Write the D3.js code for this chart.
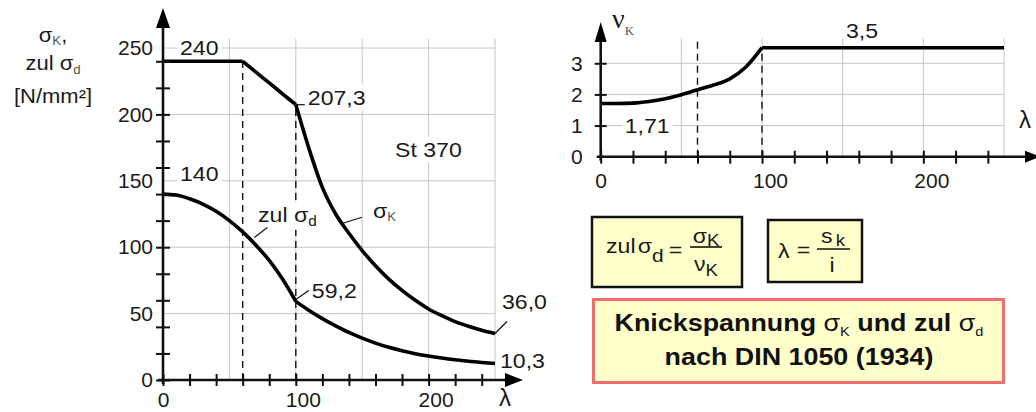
<!DOCTYPE html>
<html><head><meta charset="utf-8">
<script src="https://cdn.jsdelivr.net/npm/d3@7"></script>
<style>
html,body{margin:0;padding:0;background:#fff;}
svg{display:block;font-family:"Liberation Sans",Arial,sans-serif;}
</style>
</head><body>
<svg id="c" width="1036" height="412"></svg>
<script>
// ---------- data ----------
const lambda    = [0,10,20,30,40,50,60,70,80,90,100,110,120,130,140,150,160,170,180,190,200,210,220,230,240,250];
const sigmaK    = [240,240,240,240,240,240,240,231.8,223.7,215.5,207.3,174,145,125,110.5,97.5,86,76,67.5,60,53.5,48.5,44,40.5,37.5,35];
const zulSigmaD = [140,139.3,136.5,132.5,127,120,111.5,101.5,90,76,59.2,52.3,46.2,40.8,35.8,31.5,27.8,24.6,22,19.8,18,16.5,15.2,14.1,13.2,12.4];
const nuK       = [1.71,1.71,1.72,1.77,1.86,1.99,2.15,2.30,2.50,2.88,3.5,3.5,3.5,3.5,3.5,3.5,3.5,3.5,3.5,3.5,3.5,3.5,3.5,3.5,3.5,3.5];
const breaks    = [60,100];

const leftYLabels  = [0,50,100,150,200,250];
const leftXLabels  = [0,100,200];
const leftGrid     = [50,100,150,200,250];
const rightYLabels = [0,1,2,3];
const rightXLabels = [0,100,200];
const rightXGrid   = [50,100,150,200,250];
const rightYGrid   = [1,2,3];
const minorStep    = 20;

// ---------- setup ----------
const svg = d3.select('#c');
const INK = '#1a1a1a';
const GRID = '#c6c6c6';
const SX = 1.1;
const FONT = '"Liberation Sans",Arial,sans-serif';

const xL = d3.scaleLinear().domain([0,250]).range([163,495]);
const yL = d3.scaleLinear().domain([0,250]).range([380,48]);
const xR = d3.scaleLinear().domain([0,250]).range([600.7,1004]);
const yR = d3.scaleLinear().domain([0,3.5]).range([156.7,47.7]);

function label(parent, x, y, parts, o = {}) {
  const g = parent.append('g');
  const t = g.append('text')
    .attr('transform', `translate(${x},${y}) scale(${o.sx || SX},1)`)
    .attr('text-anchor', o.anchor || 'start')
    .attr('font-size', o.size || 21)
    .attr('font-weight', o.weight || 'normal')
    .attr('fill', o.fill || INK);
  if (o.family) t.attr('font-family', o.family);
  let cur = 0;
  parts.forEach(p => {
    if (typeof p === 'string') p = { t: p };
    const off = p.off || 0;
    const ts = t.append('tspan').text(p.t);
    if (off !== cur) ts.attr('dy', off - cur);
    cur = off;
    if (p.size) ts.attr('font-size', p.size);
    if (p.weight) ts.attr('font-weight', p.weight);
    if (p.fill) ts.attr('fill', p.fill);
    if (p.dx) ts.attr('dx', p.dx);
    if (p.family) ts.attr('font-family', p.family);
  });
  if (o.bg) {
    const b = g.node().getBBox();
    g.insert('rect', 'text').attr('x', b.x - 3).attr('y', b.y - 1)
      .attr('width', b.width + 6).attr('height', b.height + 2).attr('fill', '#fff');
  }
  return g;
}

function segments(xs, ys, cuts) {
  const edges = [xs[0], ...cuts, xs[xs.length - 1]];
  const out = [];
  for (let i = 0; i < edges.length - 1; i++) {
    const seg = [];
    xs.forEach((x, j) => { if (x >= edges[i] && x <= edges[i + 1]) seg.push([x, ys[j]]); });
    if (seg.length > 1) out.push(seg);
  }
  return out;
}
const valAt = (arr, l) => arr[lambda.indexOf(l)];

// ================= LEFT CHART =================
const L = svg.append('g');

L.append('g').selectAll('line').data(leftGrid).join('line')
  .attr('x1', d => xL(d)).attr('x2', d => xL(d))
  .attr('y1', yL(0)).attr('y2', yL(257))
  .attr('stroke', GRID).attr('stroke-width', 1);
L.append('g').selectAll('line').data(leftGrid).join('line')
  .attr('x1', xL(0)).attr('x2', xL(250))
  .attr('y1', d => yL(d)).attr('y2', d => yL(d))
  .attr('stroke', GRID).attr('stroke-width', 1);

L.append('g').selectAll('line').data(breaks).join('line')
  .attr('x1', d => xL(d)).attr('x2', d => xL(d))
  .attr('y1', yL(0)).attr('y2', d => yL(valAt(sigmaK, d)))
  .attr('stroke', '#111').attr('stroke-width', 1.4).attr('stroke-dasharray', '7,5');

label(L, xL(0) + 17, yL(240) - 6, ['240'], { bg: true });
label(L, xL(0) + 17, yL(140) - 13, ['140'], { bg: true });
label(L, xL(100) + 12, yL(207.3), ['207,3'], { bg: true });
label(L, 395, 157, ['St 370'], { bg: true });
label(L, xL(100) + 16, yL(59.2) - 3, ['59,2']);
label(L, xL(250) + 7, yL(37.5) - 21, ['36,0']);
label(L, xL(250) + 5, yL(12.4) + 4, ['10,3']);
label(L, 258, 222, ['zul σ', { t: 'd', off: 4, size: 14 }], { bg: true });
label(L, 373, 218, ['σ', { t: 'K', off: 3, size: 12, fill: '#555' }], { bg: true });

const leaders = [
  [xL(100), yL(207.3), xL(100) + 9, yL(207.3)],
  [xL(100), yL(59.2) - 2, xL(100) + 13, yL(59.2) - 11],
  [xL(250), yL(35), xL(250) + 12, yL(35) - 12],
  [xL(68) + 1, yL(103.5) - 5, xL(68) + 14, yL(103.5) - 15],
  [xL(135.5), yL(118), xL(135.5) + 19, yL(118) - 6]
];
L.append('g').selectAll('line').data(leaders).join('line')
  .attr('x1', d => d[0]).attr('y1', d => d[1]).attr('x2', d => d[2]).attr('y2', d => d[3])
  .attr('stroke', '#111').attr('stroke-width', 1.2);

const lineL = d3.line().x(d => xL(d[0])).y(d => yL(d[1])).curve(d3.curveMonotoneX);
segments(lambda, sigmaK, breaks).forEach(s =>
  L.append('path').attr('d', lineL(s)).attr('fill', 'none').attr('stroke', '#000').attr('stroke-width', 3.6));
segments(lambda, zulSigmaD, [100]).forEach(s =>
  L.append('path').attr('d', lineL(s)).attr('fill', 'none').attr('stroke', '#000').attr('stroke-width', 3.6));

const lxt = L.append('g').attr('transform', `translate(0,${yL(0)})`)
  .call(d3.axisBottom(xL).tickValues(d3.range(0, 241, minorStep)).tickSize(6).tickFormat(''));
lxt.select('.domain').remove();
lxt.selectAll('line').attr('y1', -6).attr('y2', 6).attr('stroke', '#111').attr('stroke-width', 2);
const lyt = L.append('g').attr('transform', `translate(${xL(0)},0)`)
  .call(d3.axisLeft(yL).tickValues(d3.range(0, 241, minorStep)).tickSize(7).tickFormat(''));
lyt.select('.domain').remove();
lyt.selectAll('line').attr('x1', 7).attr('x2', -7).attr('stroke', '#111').attr('stroke-width', 2);

const lyl = L.append('g').attr('transform', `translate(${xL(0)},0)`)
  .call(d3.axisLeft(yL).tickValues(leftYLabels).tickFormat(d3.format('d')).tickSize(0).tickPadding(10));
lyl.select('.domain').remove();
lyl.selectAll('text').attr('font-size', 21).attr('fill', INK).attr('font-family', FONT);
const lxl = L.append('g').attr('transform', `translate(0,${yL(0)})`)
  .call(d3.axisBottom(xL).tickValues(leftXLabels).tickFormat(d3.format('d')).tickSize(0).tickPadding(12));
lxl.select('.domain').remove();
lxl.selectAll('text').attr('font-size', 21).attr('fill', INK).attr('dx', d => d ? 7 : 0).attr('font-family', FONT);

L.append('line').attr('x1', xL(0)).attr('x2', xL(0)).attr('y1', yL(0) + 4).attr('y2', 24)
  .attr('stroke', '#111').attr('stroke-width', 2.6);
L.append('path').attr('d', `M${xL(0)},8 L${xL(0) - 7},28 L${xL(0) + 7},28 Z`).attr('fill', '#000');
L.append('line').attr('x1', xL(0) - 5).attr('x2', 508).attr('y1', yL(0)).attr('y2', yL(0))
  .attr('stroke', '#111').attr('stroke-width', 2.6);
L.append('path').attr('d', `M523,${yL(0)} L505,${yL(0) - 7} L505,${yL(0) + 7} Z`).attr('fill', '#000');

label(L, 53, 42, ['σ', { t: 'K', off: 3, size: 12, fill: '#555' }, { t: ',', off: 0 }], { anchor: 'middle', size: 20 });
label(L, 53, 70, ['zul σ', { t: 'd', off: 4, size: 12, fill: '#555' }], { anchor: 'middle', size: 20 });
label(L, 53, 103, ['[N/mm²]'], { anchor: 'middle', size: 20 });
label(L, 499, 406, ['λ'], { size: 24, sx: 1 });

// ================= RIGHT CHART =================
const R = svg.append('g');

R.append('g').selectAll('line').data(rightXGrid).join('line')
  .attr('x1', d => xR(d)).attr('x2', d => xR(d))
  .attr('y1', yR(0)).attr('y2', yR(3.8))
  .attr('stroke', GRID).attr('stroke-width', 1);
R.append('g').selectAll('line').data(rightYGrid).join('line')
  .attr('x1', xR(0)).attr('x2', xR(250))
  .attr('y1', d => yR(d)).attr('y2', d => yR(d))
  .attr('stroke', GRID).attr('stroke-width', 1);

R.append('g').selectAll('line').data(breaks).join('line')
  .attr('x1', d => xR(d)).attr('x2', d => xR(d))
  .attr('y1', yR(0)).attr('y2', d => d === 60 ? yR(3.8) : yR(valAt(nuK, d)))
  .attr('stroke', '#111').attr('stroke-width', 1.4).attr('stroke-dasharray', '7,5');

label(R, xR(0) + 24, yR(1) + 7, ['1,71'], { bg: true });
label(R, xR(162), yR(3.5) - 10, ['3,5'], { anchor: 'middle' });

const lineR = d3.line().x(d => xR(d[0])).y(d => yR(d[1])).curve(d3.curveMonotoneX);
segments(lambda, nuK, breaks).forEach(s =>
  R.append('path').attr('d', lineR(s)).attr('fill', 'none').attr('stroke', '#000').attr('stroke-width', 3.6));

const rxt = R.append('g').attr('transform', `translate(0,${yR(0)})`)
  .call(d3.axisBottom(xR).tickValues(d3.range(0, 241, minorStep)).tickSize(6).tickFormat(''));
rxt.select('.domain').remove();
rxt.selectAll('line').attr('y1', -6).attr('y2', 7).attr('stroke', '#111').attr('stroke-width', 2);
const ryt = R.append('g').attr('transform', `translate(${xR(0)},0)`)
  .call(d3.axisLeft(yR).tickValues(rightYGrid).tickSize(6).tickFormat(''));
ryt.select('.domain').remove();
ryt.selectAll('line').attr('x1', 6).attr('x2', -6).attr('stroke', '#111').attr('stroke-width', 2);

const ryl = R.append('g').attr('transform', `translate(${xR(0)},0)`)
  .call(d3.axisLeft(yR).tickValues(rightYLabels).tickFormat(d3.format('d')).tickSize(0).tickPadding(18));
ryl.select('.domain').remove();
ryl.selectAll('text').attr('font-size', 21).attr('fill', INK).attr('font-family', FONT);
const rxl = R.append('g').attr('transform', `translate(0,${yR(0)})`)
  .call(d3.axisBottom(xR).tickValues(rightXLabels).tickFormat(d3.format('d')).tickSize(0).tickPadding(16));
rxl.select('.domain').remove();
rxl.selectAll('text').attr('font-size', 21).attr('fill', INK).attr('dx', d => d ? 8 : 0).attr('font-family', FONT);

R.append('line').attr('x1', xR(0)).attr('x2', xR(0)).attr('y1', yR(0) + 4).attr('y2', 36)
  .attr('stroke', '#111').attr('stroke-width', 2.6);
R.append('path').attr('d', `M${xR(0)},22 L${xR(0) - 6},42 L${xR(0) + 6},42 Z`).attr('fill', '#000');
R.append('line').attr('x1', xR(0) - 4).attr('x2', 1030).attr('y1', yR(0)).attr('y2', yR(0))
  .attr('stroke', '#111').attr('stroke-width', 2.6);
R.append('path').attr('d', `M1040,${yR(0)} L1025,${yR(0) - 6} L1025,${yR(0) + 6} Z`).attr('fill', '#000');

label(R, 612, 28, ['ν', { t: 'K', off: 7, size: 13, fill: '#555' }], { size: 28, sx: 1, family: '"Liberation Serif",serif' });
label(R, 1019, 128, ['λ'], { size: 24, sx: 1 });

// ================= FORMULA BOXES =================
const F = svg.append('g');
F.append('rect').attr('x', 592).attr('y', 217).attr('width', 150).attr('height', 70)
  .attr('fill', '#ffffcc').attr('stroke', '#111').attr('stroke-width', 2.5);
label(F, 606, 253, ['zul', { t: 'σ', dx: 2 }, { t: 'd', off: 9, size: 19 }], { size: 21 });
label(F, 675.5, 257, ['='], { anchor: 'middle', size: 21 });
F.append('line').attr('x1', 690).attr('x2', 722).attr('y1', 247).attr('y2', 247).attr('stroke', '#111').attr('stroke-width', 1.6);
label(F, 706, 243, ['σ', { t: 'K', off: 3, size: 17 }], { anchor: 'middle', size: 21 });
label(F, 706, 271, ['ν', { t: 'K', off: 5, size: 17 }], { anchor: 'middle', size: 21 });

F.append('rect').attr('x', 768).attr('y', 220).attr('width', 94).attr('height', 62)
  .attr('fill', '#ffffcc').attr('stroke', '#111').attr('stroke-width', 2.5);
label(F, 778, 258, ['λ'], { size: 21 });
label(F, 803.5, 257, ['='], { anchor: 'middle', size: 21 });
F.append('line').attr('x1', 817).attr('x2', 850).attr('y1', 249).attr('y2', 249).attr('stroke', '#111').attr('stroke-width', 1.6);
label(F, 833, 243, ['s', { t: 'k', off: 3, size: 17, dx: 3 }], { anchor: 'middle', size: 21 });
label(F, 832, 272, ['i'], { anchor: 'middle', size: 21 });

// ================= TITLE BOX =================
F.append('rect').attr('x', 593.5).attr('y', 299.5).attr('width', 410).attr('height', 83)
  .attr('fill', '#ffffcc').attr('stroke', '#f26d6d').attr('stroke-width', 3);
label(F, 799, 331, ['Knickspannung ', { t: 'σ', weight: 'normal' }, { t: 'K', off: 5, size: 13, weight: 'normal' },
  { t: ' und zul ', off: 0 }, { t: 'σ', weight: 'normal' }, { t: 'd', off: 5, size: 13, weight: 'normal' }],
  { anchor: 'middle', size: 24, weight: 'bold', sx: 1.12, fill: '#111' });
label(F, 799, 365, ['nach DIN 1050 (1934)'], { anchor: 'middle', size: 24, weight: 'bold', sx: 1.12, fill: '#111' });
</script>
</body></html>
